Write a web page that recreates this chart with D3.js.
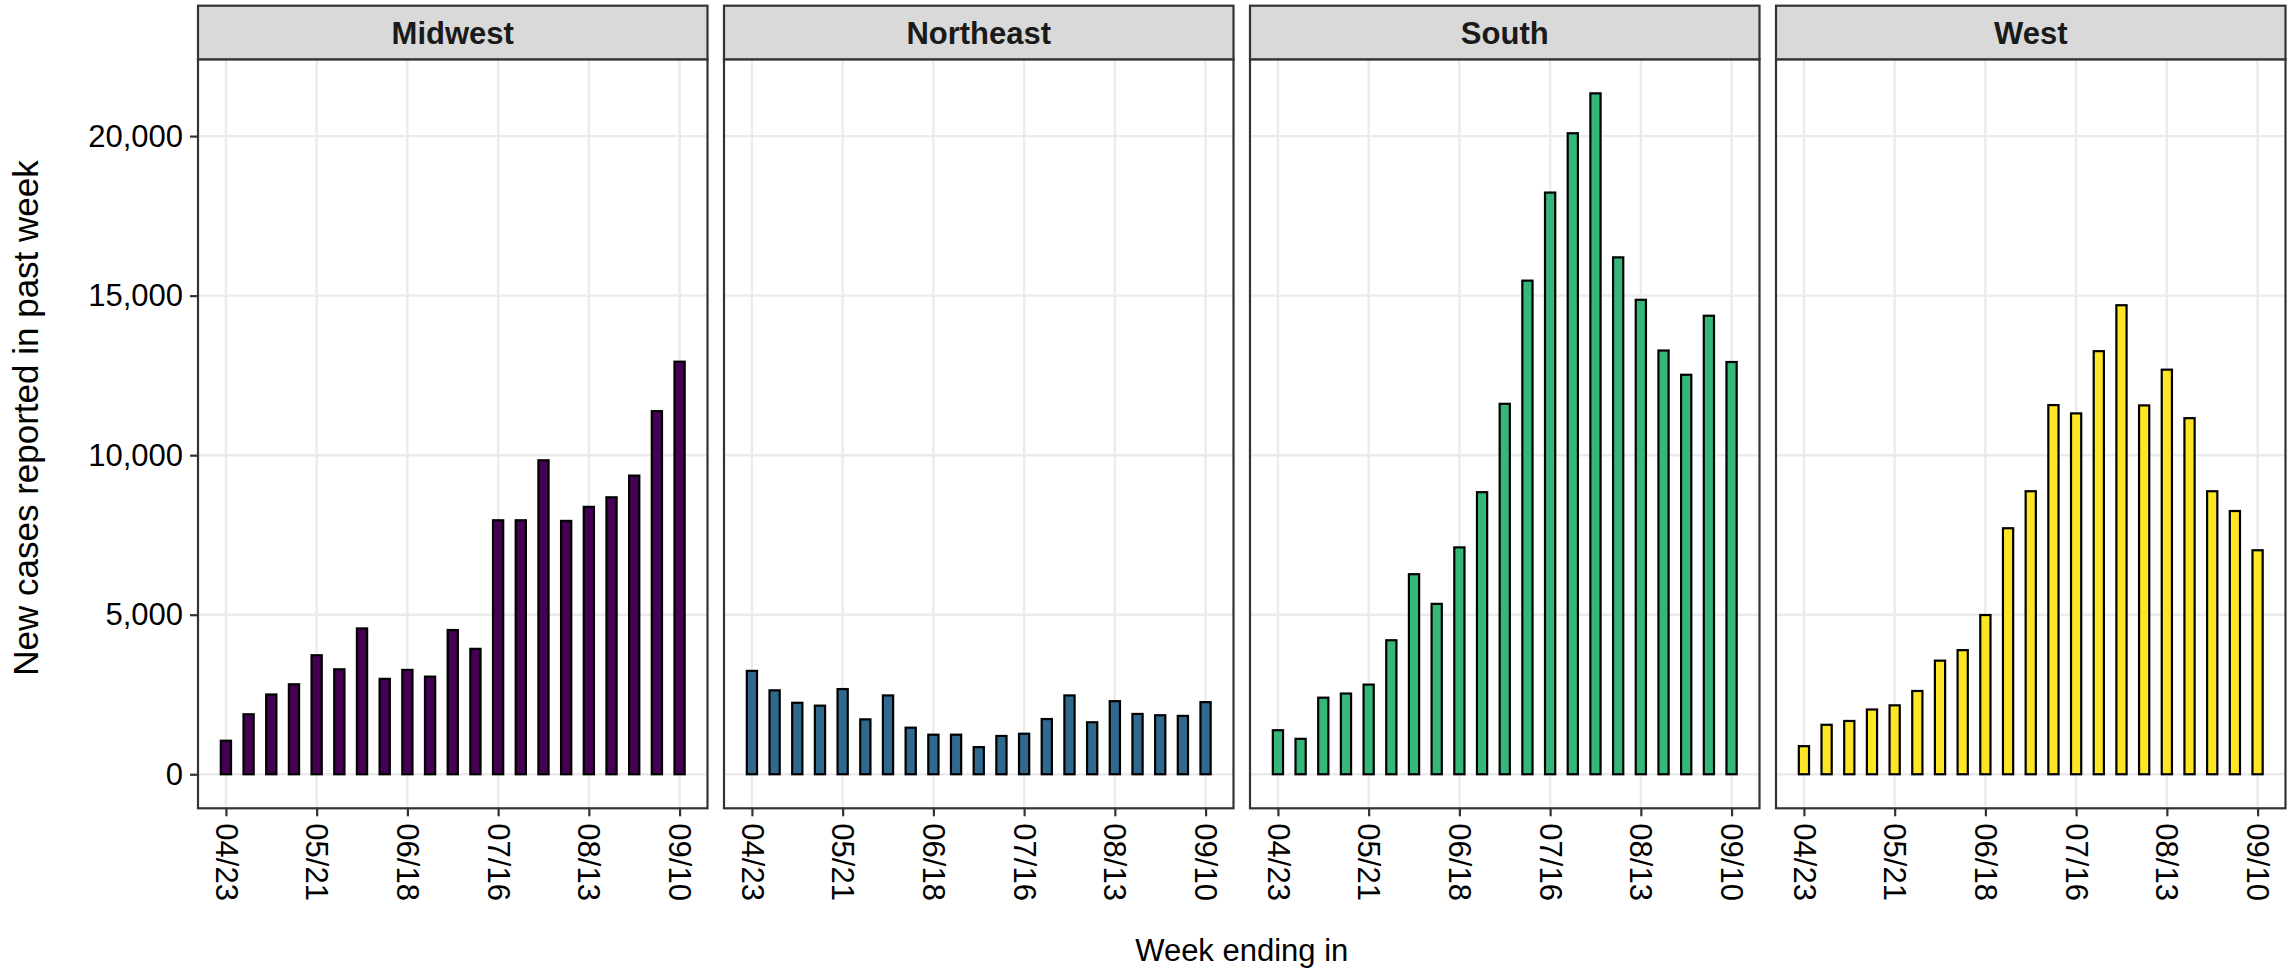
<!DOCTYPE html>
<html>
<head>
<meta charset="utf-8">
<script src="https://cdn.jsdelivr.net/npm/d3@7"></script>
<style>
  html, body { margin: 0; padding: 0; background: #fff; }
  svg { display: block; font-family: "Liberation Sans", Arial, sans-serif; }
</style>
</head>
<body>
<svg id="chart" width="2287" height="973"></svg>
<script>
// ── Data ─────────────────────────────────────────────────────────────
const weeks = [
    "2022-04-23","2022-04-30","2022-05-07","2022-05-14","2022-05-21","2022-05-28",
    "2022-06-04","2022-06-11","2022-06-18","2022-06-25","2022-07-02","2022-07-09",
    "2022-07-16","2022-07-23","2022-07-30","2022-08-06","2022-08-13","2022-08-20",
    "2022-08-27","2022-09-03","2022-09-10"
];
const tickWeeks = ["2022-04-23","2022-05-21","2022-06-18","2022-07-16","2022-08-13","2022-09-10"];
const yTicks = [0, 5000, 10000, 15000, 20000];

const regions = ["Midwest", "Northeast", "South", "West"];
const regionColors = ["#440154", "#31688E", "#35B779", "#FDE725"];

const midwest   = [1050, 1880, 2500, 2820, 3730, 3290, 4570, 2990, 3270, 3060, 4520,
                   3930, 7960, 7960, 9840, 7940, 8380, 8680, 9360, 11380, 12930];
const northeast = [3240, 2630, 2240, 2150, 2670, 1720, 2470, 1460, 1240, 1240, 850,
                   1200, 1270, 1730, 2470, 1630, 2290, 1890, 1850, 1830, 2260];
const south     = [1380, 1110, 2400, 2530, 2810, 4200, 6270, 5340, 7110, 8840, 11610,
                   15470, 18230, 20090, 21340, 16200, 14870, 13280, 12520, 14370, 12920];
const west      = [880, 1550, 1670, 2030, 2160, 2610, 3560, 3890, 4990, 7710, 8870,
                   11570, 11310, 13260, 14700, 11560, 12680, 11160, 8870, 8250, 7020];
const regionValues = [midwest, northeast, south, west];

// ── Layout ───────────────────────────────────────────────────────────
const W = 2287, H = 973;
const left0 = 198, panelW = 509.5, gap = 16.5;
const stripTop = 5.7, panelTop = 59.3, panelBottom = 808.3;
const FONT = 31, TITLE_FONT = 35;
const WEEK = 7 * 24 * 3600 * 1000;
const barWeeks = 0.45;

const parse = d3.timeParse("%Y-%m-%d");
const dates = weeks.map(parse);
const ticks = tickWeeks.map(parse);

const svg = d3.select("#chart");

// ── Scales ───────────────────────────────────────────────────────────
const yMax = d3.max(regionValues.flat());
const y = d3.scaleLinear()
    .domain([-0.05 * yMax, 1.05 * yMax])
    .range([panelBottom, panelTop]);

// ggplot-like 5% expansion around the bar extent
const d0 = +dates[0] - WEEK * 0.42 / 2;
const d1 = +dates[dates.length - 1] + WEEK * 0.42 / 2;
const pad = (d1 - d0) * 0.05;
const x = d3.scaleTime()
    .domain([new Date(d0 - pad), new Date(d1 + pad)])
    .range([0, panelW]);

// ── Panels ───────────────────────────────────────────────────────────
regions.forEach((name, i) => {
    const px = left0 + i * (panelW + gap);
    const g = svg.append("g").attr("transform", `translate(${px},0)`);

    // grid
    g.selectAll("line.gy").data(yTicks).enter().append("line")
        .attr("x1", 0).attr("x2", panelW)
        .attr("y1", d => y(d)).attr("y2", d => y(d))
        .attr("stroke", "#EBEBEB").attr("stroke-width", 2.4);
    g.selectAll("line.gx").data(ticks).enter().append("line")
        .attr("x1", d => x(d)).attr("x2", d => x(d))
        .attr("y1", panelTop).attr("y2", panelBottom)
        .attr("stroke", "#EBEBEB").attr("stroke-width", 2.4);

    // bars
    const vals = regionValues[i];
    g.selectAll("rect.bar").data(dates).enter().append("rect")
        .attr("x", d => x(new Date(+d - WEEK * barWeeks / 2)))
        .attr("width", d => x(new Date(+d + WEEK * barWeeks / 2)) - x(new Date(+d - WEEK * barWeeks / 2)))
        .attr("y", (d, j) => y(vals[j]))
        .attr("height", (d, j) => y(0) - y(vals[j]))
        .attr("fill", regionColors[i])
        .attr("stroke", "#000").attr("stroke-width", 2.2);

    // panel border
    g.append("rect")
        .attr("x", 0).attr("y", panelTop)
        .attr("width", panelW).attr("height", panelBottom - panelTop)
        .attr("fill", "none").attr("stroke", "#333333").attr("stroke-width", 2.2);

    // strip
    g.append("rect")
        .attr("x", 0).attr("y", stripTop)
        .attr("width", panelW).attr("height", panelTop - stripTop)
        .attr("fill", "#D9D9D9").attr("stroke", "#333333").attr("stroke-width", 2.2);
    g.append("text")
        .attr("x", panelW / 2).attr("y", (stripTop + panelTop) / 2)
        .attr("dy", "0.36em").attr("text-anchor", "middle")
        .attr("font-size", FONT).attr("font-weight", "bold").attr("fill", "#1A1A1A")
        .text(name);

    // x axis
    const xa = g.append("g")
        .attr("transform", `translate(0,${panelBottom})`)
        .call(d3.axisBottom(x).tickValues(ticks).tickFormat(d3.timeFormat("%m/%d"))
            .tickSize(8).tickPadding(7));
    xa.select(".domain").remove();
    xa.selectAll(".tick line").attr("stroke", "#333333").attr("stroke-width", 2.2);
    xa.selectAll(".tick text")
        .attr("font-size", FONT).attr("font-family", "Liberation Sans, Arial, sans-serif")
        .attr("fill", "#000")
        .attr("transform", "rotate(90)")
        .attr("text-anchor", "start")
        .attr("x", 15).attr("y", 0).attr("dy", "0.35em");

    // y axis on first panel only
    if (i === 0) {
        const ya = g.append("g")
            .call(d3.axisLeft(y).tickValues(yTicks).tickFormat(d3.format(","))
                .tickSize(8).tickPadding(7));
        ya.select(".domain").remove();
        ya.selectAll(".tick line").attr("stroke", "#333333").attr("stroke-width", 2.2);
        ya.selectAll(".tick text")
            .attr("font-size", FONT).attr("font-family", "Liberation Sans, Arial, sans-serif")
            .attr("fill", "#000");
    }
});

// ── Axis titles ──────────────────────────────────────────────────────
const panelsRight = left0 + 4 * panelW + 3 * gap;
svg.append("text")
    .attr("x", (left0 + panelsRight) / 2).attr("y", 961)
    .attr("text-anchor", "middle").attr("font-size", FONT).attr("fill", "#000")
    .text("Week ending in");

svg.append("text")
    .attr("transform", `translate(38,418) rotate(-90)`)
    .attr("text-anchor", "middle").attr("font-size", TITLE_FONT).attr("fill", "#000")
    .text("New cases reported in past week");
</script>
</body>
</html>
